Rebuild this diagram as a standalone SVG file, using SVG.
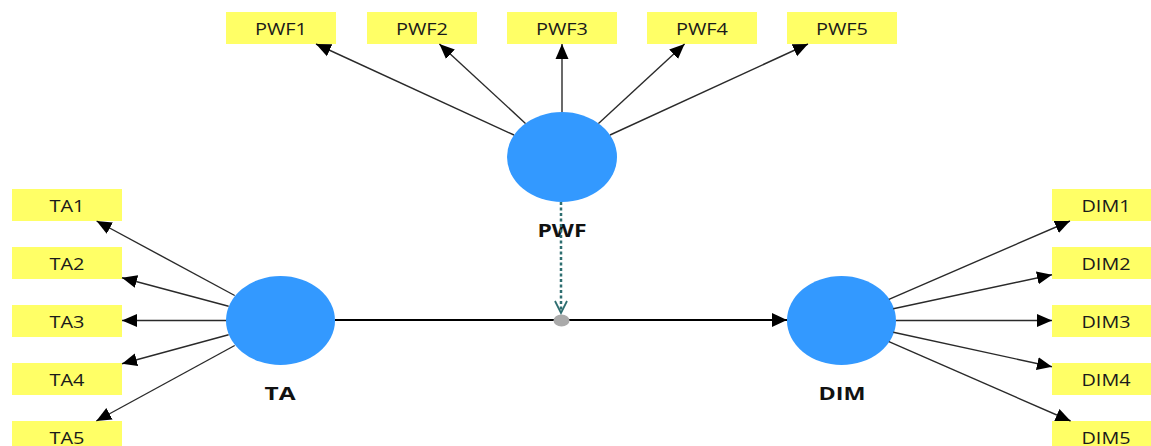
<svg xmlns="http://www.w3.org/2000/svg" width="1151" height="446" viewBox="0 0 1151 446">
<style>
.ind{fill:#ffff66}
.it{font-family:"Open Sans","Liberation Sans",sans-serif;font-size:16.5px;fill:#1a1a1a;text-anchor:middle}
.lv{fill:#3399ff}
.lt{font-family:"Open Sans","Liberation Sans",sans-serif;font-size:17px;font-weight:bold;fill:#111;text-anchor:middle}
.ln{stroke:#2a2a2a;stroke-width:1.4;fill:none;marker-end:url(#ah)}
</style>
<defs>
<marker id="ah" markerUnits="userSpaceOnUse" markerWidth="16" markerHeight="14" refX="15" refY="6.5" orient="auto" viewBox="0 0 16 13">
<path d="M0,0 L15,6.5 L0,13 Z" fill="#000"/>
</marker>
<marker id="ahm" markerUnits="userSpaceOnUse" markerWidth="16" markerHeight="15" refX="15" refY="7" orient="auto" viewBox="0 0 16 14">
<path d="M0,0 L15,7 L0,14 Z" fill="#000"/>
</marker>
</defs>
<rect width="1151" height="446" fill="#fff"/>
<g id="PWF1"><rect class="ind" x="226" y="12" width="110" height="32"/><text class="it" x="281" y="35" textLength="52" lengthAdjust="spacingAndGlyphs">PWF1</text></g>
<g id="PWF2"><rect class="ind" x="367" y="12" width="110" height="32"/><text class="it" x="422" y="35" textLength="52" lengthAdjust="spacingAndGlyphs">PWF2</text></g>
<g id="PWF3"><rect class="ind" x="507" y="12" width="110" height="32"/><text class="it" x="562" y="35" textLength="52" lengthAdjust="spacingAndGlyphs">PWF3</text></g>
<g id="PWF4"><rect class="ind" x="647" y="12" width="110" height="32"/><text class="it" x="702" y="35" textLength="52" lengthAdjust="spacingAndGlyphs">PWF4</text></g>
<g id="PWF5"><rect class="ind" x="787" y="12" width="110" height="32"/><text class="it" x="842" y="35" textLength="52" lengthAdjust="spacingAndGlyphs">PWF5</text></g>
<g id="TA1"><rect class="ind" x="12" y="189" width="110" height="32"/><text class="it" x="67" y="212" textLength="35" lengthAdjust="spacingAndGlyphs">TA1</text></g>
<g id="TA2"><rect class="ind" x="12" y="247" width="110" height="32"/><text class="it" x="67" y="270" textLength="35" lengthAdjust="spacingAndGlyphs">TA2</text></g>
<g id="TA3"><rect class="ind" x="12" y="305" width="110" height="32"/><text class="it" x="67" y="328" textLength="35" lengthAdjust="spacingAndGlyphs">TA3</text></g>
<g id="TA4"><rect class="ind" x="12" y="363" width="110" height="32"/><text class="it" x="67" y="386" textLength="35" lengthAdjust="spacingAndGlyphs">TA4</text></g>
<g id="TA5"><rect class="ind" x="12" y="421" width="110" height="32"/><text class="it" x="67" y="444" textLength="35" lengthAdjust="spacingAndGlyphs">TA5</text></g>
<g id="DIM1"><rect class="ind" x="1052" y="189" width="110" height="32"/><text class="it" x="1106" y="212" textLength="49" lengthAdjust="spacingAndGlyphs">DIM1</text></g>
<g id="DIM2"><rect class="ind" x="1052" y="247" width="110" height="32"/><text class="it" x="1106" y="270" textLength="49" lengthAdjust="spacingAndGlyphs">DIM2</text></g>
<g id="DIM3"><rect class="ind" x="1052" y="305" width="110" height="32"/><text class="it" x="1106" y="328" textLength="49" lengthAdjust="spacingAndGlyphs">DIM3</text></g>
<g id="DIM4"><rect class="ind" x="1052" y="363" width="110" height="32"/><text class="it" x="1106" y="386" textLength="49" lengthAdjust="spacingAndGlyphs">DIM4</text></g>
<g id="DIM5"><rect class="ind" x="1052" y="421" width="110" height="32"/><text class="it" x="1106" y="444" textLength="49" lengthAdjust="spacingAndGlyphs">DIM5</text></g>
<g id="PWF"><ellipse class="lv" cx="562" cy="157" rx="55" ry="45"/><text class="lt" x="562" y="237" textLength="49" lengthAdjust="spacingAndGlyphs">PWF</text></g>
<g id="TA"><ellipse class="lv" cx="280.5" cy="320.5" rx="54.5" ry="44.5"/><text class="lt" x="280" y="400" textLength="31" lengthAdjust="spacingAndGlyphs">TA</text></g>
<g id="DIM"><ellipse class="lv" cx="841.5" cy="320.5" rx="54.5" ry="44.5"/><text class="lt" x="842" y="400" textLength="47" lengthAdjust="spacingAndGlyphs">DIM</text></g>
<g id="connectors">
<line class="ln" x1="514" y1="135" x2="316" y2="44"/>
<line class="ln" x1="525.5" y1="123.4" x2="439.4" y2="44"/>
<line class="ln" x1="562" y1="112" x2="562" y2="44"/>
<line class="ln" x1="598.5" y1="123.4" x2="684.6" y2="44"/>
<line class="ln" x1="610" y1="135" x2="808" y2="44"/>
<line class="ln" x1="234.7" y1="295.5" x2="96.6" y2="221"/>
<line class="ln" x1="228.6" y1="306.2" x2="122" y2="277.7"/>
<line class="ln" x1="226" y1="320.5" x2="122" y2="320.5"/>
<line class="ln" x1="228.6" y1="334.8" x2="122" y2="363.8"/>
<line class="ln" x1="234.7" y1="345.5" x2="96.3" y2="421"/>
<line class="ln" x1="888.9" y1="299.3" x2="1070" y2="221"/>
<line class="ln" x1="893.3" y1="308.8" x2="1052" y2="274.8"/>
<line class="ln" x1="896" y1="320.5" x2="1052" y2="320.5"/>
<line class="ln" x1="893.3" y1="332.2" x2="1052" y2="366.8"/>
<line class="ln" x1="888.9" y1="341.7" x2="1070.6" y2="421"/>
<line x1="335" y1="320" x2="787" y2="320" stroke="#000" stroke-width="2" marker-end="url(#ahm)"/>
<ellipse cx="561.5" cy="320.5" rx="8" ry="6" fill="#aaa"/>
<line x1="561" y1="202" x2="561" y2="312" stroke="#2e6e70" stroke-width="2.5" stroke-dasharray="3,2.5"/>
<path d="M555,301 L561,313 L567,301" fill="none" stroke="#2e6e70" stroke-width="1.8"/>
</g>
</svg>
